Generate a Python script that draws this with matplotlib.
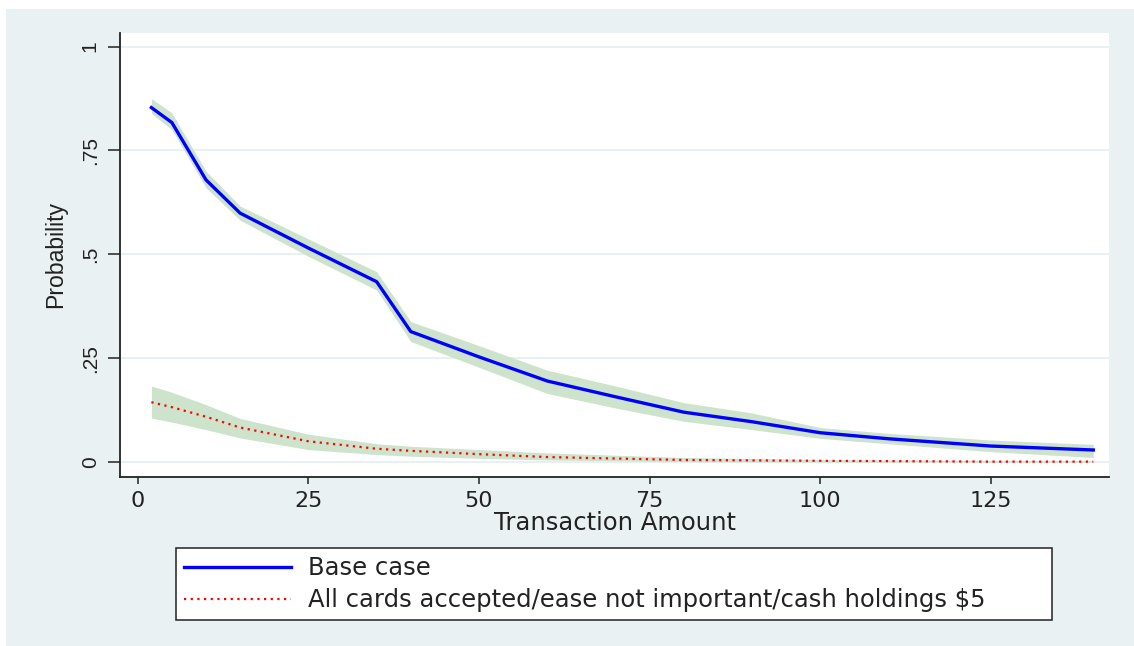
import matplotlib
matplotlib.use("Agg")
import matplotlib.pyplot as plt
from matplotlib.patches import Rectangle

# Predicted probability of paying cash by transaction amount
amount_base = [2, 5, 10, 15, 25, 35, 40, 50, 60, 70, 80, 90, 100, 110, 125, 140]
prob_base = [0.853, 0.817, 0.679, 0.599, 0.515, 0.434, 0.314, 0.253, 0.195,
             0.157, 0.120, 0.097, 0.0705, 0.056, 0.0385, 0.029]
lo_base = [0.839, 0.800, 0.660, 0.582, 0.495, 0.414, 0.290, 0.228, 0.165,
           0.130, 0.098, 0.078, 0.057, 0.044, 0.025, 0.011]
hi_base = [0.875, 0.840, 0.700, 0.616, 0.537, 0.458, 0.338, 0.280, 0.221,
           0.183, 0.143, 0.118, 0.083, 0.069, 0.053, 0.0425]

amount_alt = [2, 5, 10, 15, 25, 35, 40, 50, 60, 80, 100, 125, 140]
prob_alt = [0.144, 0.132, 0.109, 0.083, 0.050, 0.032, 0.027, 0.019, 0.012,
            0.005, 0.003, 0.001, 0.001]
lo_alt = [0.106, 0.096, 0.078, 0.058, 0.030, 0.018, 0.014, 0.009, 0.005,
          0.001, 0.000, 0.000, 0.000]
hi_alt = [0.183, 0.168, 0.138, 0.105, 0.067, 0.044, 0.038, 0.030, 0.022,
          0.011, 0.006, 0.004, 0.003]

x_ticks = [0, 25, 50, 75, 100, 125]
y_ticks = [0, 0.25, 0.5, 0.75, 1]
y_tick_labels = ["0", ".25", ".5", ".75", "1"]
series_labels = ["Base case",
                 "All cards accepted/ease not important/cash holdings $5"]

BG = "#eaf1f3"
BAND = "#cde3cc"
GRID = "#e4edf1"
INK = "#222222"

W, H = 1134, 646
fig = plt.figure(figsize=(W / 100, H / 100), dpi=100, facecolor="white")

# tinted graph region behind everything
fig.patches.append(Rectangle((6 / W, 0), 1 - 6 / W, 1 - 9 / H,
                             transform=fig.transFigure, facecolor=BG,
                             edgecolor="none", zorder=-10))

ax = fig.add_axes([120 / W, 1 - 477 / H, (1109 - 120) / W, (477 - 33) / H])
ax.set_facecolor("white")

ax.fill_between(amount_base, lo_base, hi_base, color=BAND, linewidth=0, zorder=2)
ax.fill_between(amount_alt, lo_alt, hi_alt, color=BAND, linewidth=0, zorder=2)
ax.plot(amount_base, prob_base, color="#0000ff", linewidth=2.4, zorder=4,
        label=series_labels[0])
ax.plot(amount_alt, prob_alt, color="#ff0000", linewidth=1.6,
        linestyle=(0, (1, 2)), zorder=4, label=series_labels[1])

ax.set_xlim(-2.6, 142.3)
ax.set_ylim(-0.036, 1.0325)
ax.set_xticks(x_ticks)
ax.set_yticks(y_ticks)
ax.set_yticklabels(y_tick_labels, rotation=90, va="center",
                   family="Liberation Sans", fontsize=15)
for lab in ax.get_xticklabels():
    lab.set_fontsize(16)

ax.grid(axis="y", color=GRID, linewidth=1.2, zorder=1)
ax.grid(axis="x", visible=False)
for side in ("top", "right"):
    ax.spines[side].set_visible(False)
for side in ("left", "bottom"):
    ax.spines[side].set_color(INK)
    ax.spines[side].set_linewidth(1.3)

ax.tick_params(axis="y", length=8.6, width=1.1, color=INK, pad=6,
               labelcolor=INK)
ax.tick_params(axis="x", length=5, width=1.1, color=INK, pad=5,
               labelcolor=INK)

ax.set_xlabel("Transaction Amount", fontsize=17.5, color=INK, labelpad=0)
ax.set_ylabel("Probability", fontsize=16.6, family="Liberation Sans",
              color=INK, labelpad=10)

leg = fig.legend(loc="upper left",
                 bbox_to_anchor=(176 / W, 0, (1052 - 176) / W, 1 - 548 / H),
                 mode="expand", ncol=1, borderaxespad=0, fontsize=17.5,
                 handlelength=4.4, handletextpad=0.7, borderpad=0.33,
                 labelspacing=0.33, fancybox=False, framealpha=1,
                 edgecolor=INK)
leg.get_frame().set_linewidth(1.1)
for t in leg.get_texts():
    t.set_color(INK)

fig.savefig("out.png", dpi=100, facecolor=fig.get_facecolor())
